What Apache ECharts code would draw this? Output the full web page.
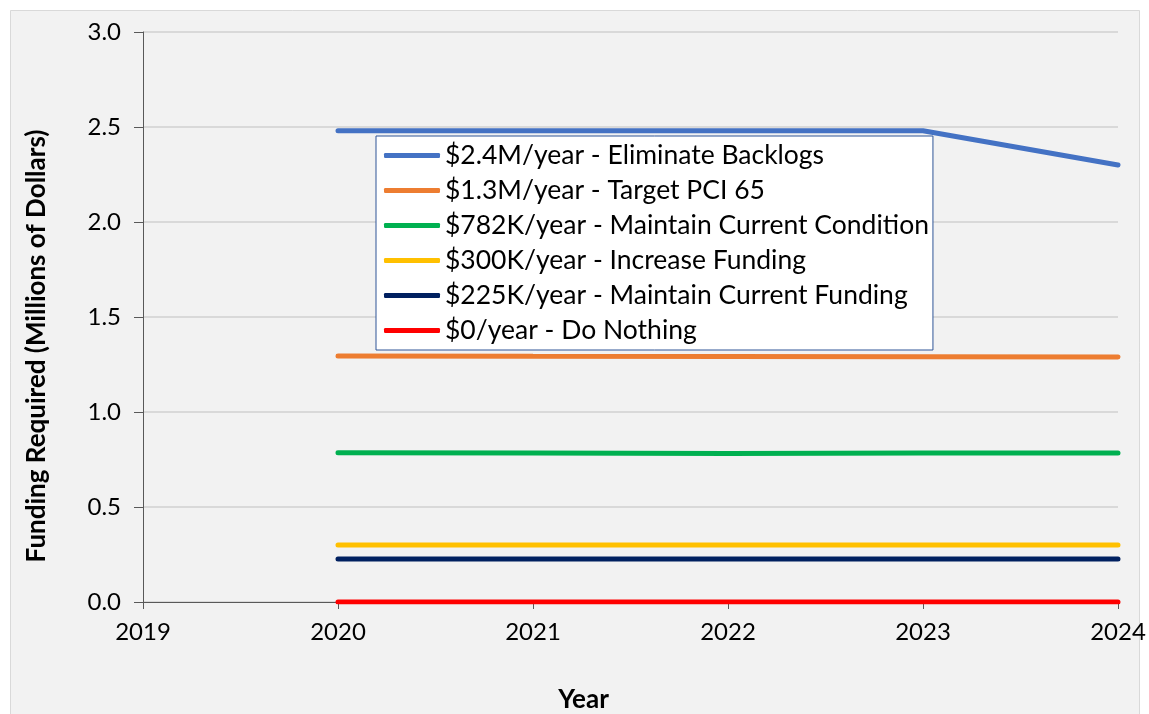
<!DOCTYPE html>
<html>
<head>
<meta charset="utf-8">
<script src="https://cdn.jsdelivr.net/npm/echarts@6/dist/echarts.min.js"></script>
<style>
html,body{margin:0;padding:0;background:#fff;}
#chart{width:1149px;height:714px;}
</style>
</head>
<body>
<div id="chart"></div>
<script>
const years = [2020, 2021, 2022, 2023, 2024];
const seriesNames = [
  "$2.4M/year - Eliminate Backlogs",
  "$1.3M/year - Target PCI 65",
  "$782K/year - Maintain Current Condition",
  "$300K/year - Increase Funding",
  "$225K/year - Maintain Current Funding",
  "$0/year - Do Nothing"
];
const eliminateBacklogs = [2.48, 2.48, 2.48, 2.48, 2.30];
const targetPCI65 = [1.295, 1.293, 1.292, 1.291, 1.289];
const maintainCondition = [0.785, 0.784, 0.782, 0.784, 0.784];
const increaseFunding = [0.30, 0.30, 0.30, 0.30, 0.30];
const maintainFunding = [0.226, 0.226, 0.226, 0.226, 0.226];
const doNothing = [0, 0, 0, 0, 0];
const colors = ["#4472C4", "#ED7D31", "#00B050", "#FFC000", "#002060", "#FF0000"];
const allValues = [eliminateBacklogs, targetPCI65, maintainCondition, increaseFunding, maintainFunding, doNothing];

const FONT = "Lato";
const chart = echarts.init(document.getElementById('chart'), null, {renderer: 'canvas'});
const series = allValues.map((vals, i) => ({
  name: seriesNames[i],
  type: 'line',
  data: years.map((y, j) => [y, vals[j]]),
  symbol: 'none',
  lineStyle: {width: 5, color: colors[i], cap: 'round'},
  itemStyle: {color: colors[i]},
  z: 10 - i
}));

chart.setOption({
  backgroundColor: '#ffffff',
  animation: false,
  color: colors,
  graphic: [{
    type: 'rect', z: -10, silent: true,
    shape: {x: 10.5, y: 10.5, width: 1129, height: 720},
    style: {fill: '#f2f2f2', stroke: '#d9d9d9', lineWidth: 1}
  }],
  grid: {left: 143, right: 31, top: 32, bottom: 112, containLabel: false, outerBoundsMode: 'none'},
  legend: {
    orient: 'vertical',
    left: 376, top: 136,
    backgroundColor: '#ffffff',
    borderColor: '#2F5597',
    borderWidth: 1,
    padding: [6, 4, 6, 8],
    itemWidth: 56, itemHeight: 5,
    itemGap: 8,
    icon: 'roundRect',
    textStyle: {fontFamily: FONT, fontSize: 26.5, color: '#000'},
    data: seriesNames
  },
  xAxis: {
    type: 'value', min: 2019, max: 2024, interval: 1,
    name: 'Year', nameLocation: 'middle', nameGap: 85,
    nameTextStyle: {fontFamily: FONT, fontSize: 26, fontWeight: 'bold', color: '#000', padding: [0, 94, 0, 0]},
    axisLine: {show: true, lineStyle: {color: '#595959', width: 1}},
    axisTick: {show: true, length: 7, lineStyle: {color: '#595959'}},
    axisLabel: {fontFamily: FONT, fontSize: 24, color: '#000', margin: 18, formatter: v => String(v)},
    splitLine: {show: false}
  },
  yAxis: {
    type: 'value', min: 0, max: 3, interval: 0.5,
    name: 'Funding Required (Millions of Dollars)', nameLocation: 'middle', nameGap: 93,
    nameTextStyle: {fontFamily: FONT, fontSize: 26, fontWeight: 'bold', color: '#000', padding: [0, 58, 0, 0]},
    axisLine: {show: true, lineStyle: {color: '#595959', width: 1}},
    axisTick: {show: true, length: 9, inside: false, lineStyle: {color: '#595959'}},
    axisLabel: {fontFamily: FONT, fontSize: 24, color: '#000', margin: 22, formatter: v => v.toFixed(1)},
    splitLine: {show: true, lineStyle: {color: '#d9d9d9', width: 2}}
  },
  series: series
});
</script>
</body>
</html>
